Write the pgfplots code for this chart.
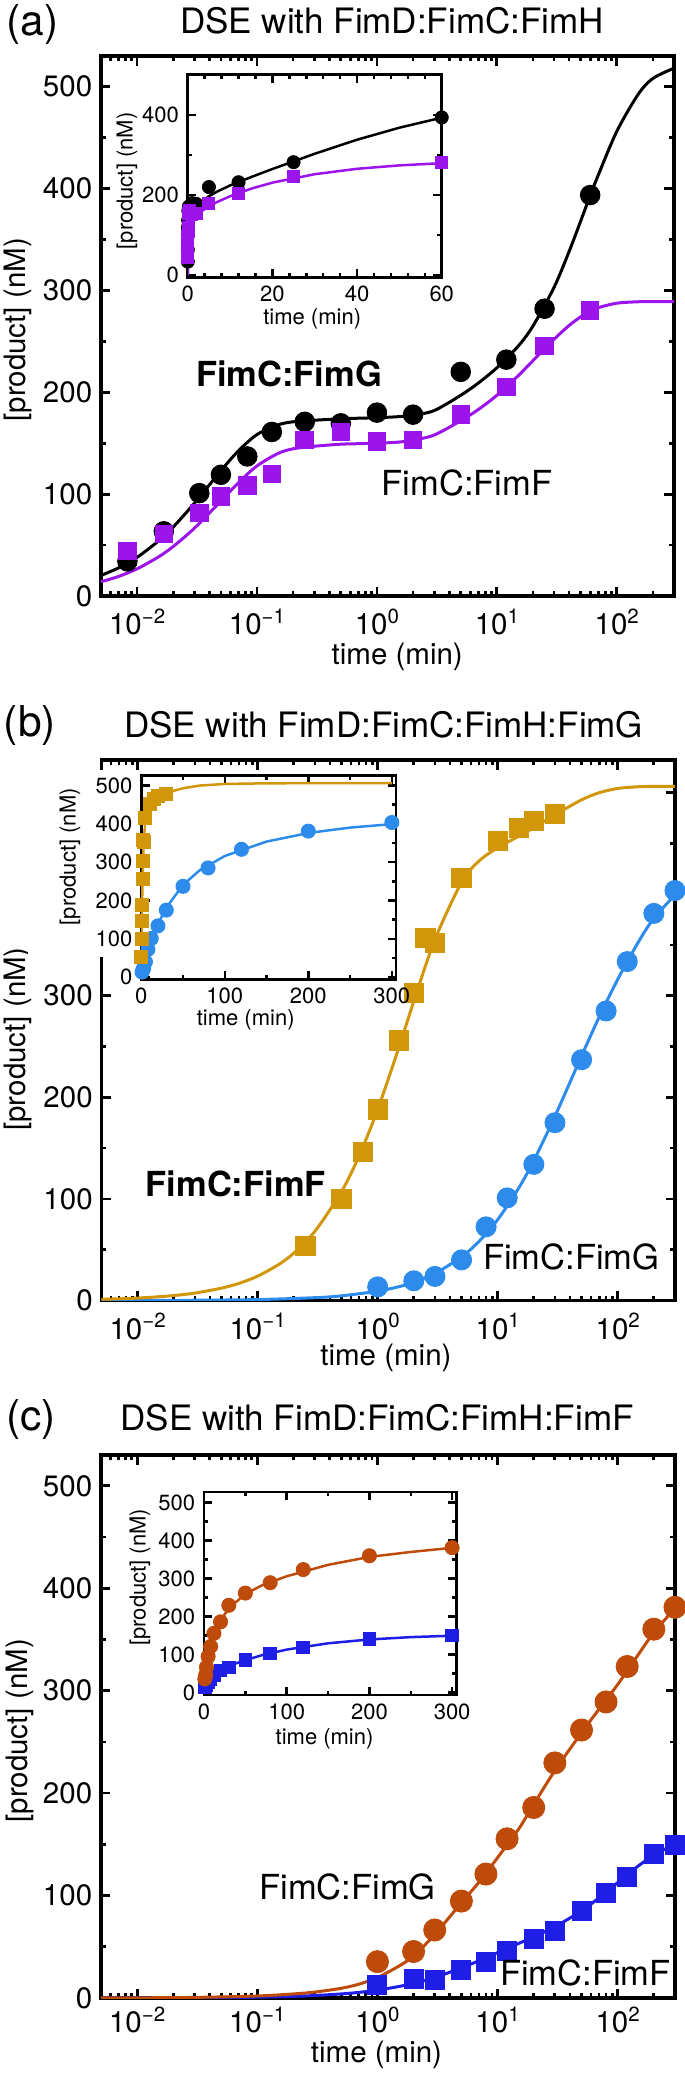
\documentclass[border=0pt]{standalone}
\usepackage{fontspec}
\setmainfont{TeX Gyre Heros}
\usepackage{pgfplots}
\usepackage{pgfplotstable}
\pgfplotsset{compat=1.18}
\pgfkeys{/pgf/number format/assume math mode=true}

\definecolor{apurple}{RGB}{155,20,235}
\definecolor{bgold}{RGB}{210,150,10}
\definecolor{bblue}{RGB}{45,140,235}
\definecolor{corange}{RGB}{190,75,10}
\definecolor{cblue}{RGB}{30,30,230}

\newcommand{\dec}[1]{10\raisebox{4.6pt}{\fontsize{8.2}{9}\selectfont #1}}

% ---------- panel (a) ----------
\pgfplotstableread{
t y
0.0083 34
0.0167 63.5
0.033 101
0.05 119
0.083 137
0.133 161
0.25 171
0.5 169.5
1 180
2 178
5 220
12 232
25 282
60 393.5
}\aB
\pgfplotstableread{
t y
0.0083 44
0.0167 61
0.033 81.5
0.05 97.5
0.083 108.5
0.133 120
0.25 153
0.5 161
1 151.5
2 153
5 178
12 205
25 245.5
60 280
}\aP
\pgfplotstableread{
t y
0.005 20.2
0.007 27.6
0.01 38.0
0.015 53.8
0.02 67.7
0.03 91.0
0.05 123.0
0.07 142.5
0.1 158.5
0.15 168.0
0.2 171.0
0.3 172.5
0.5 174
0.7 174.5
1 175
1.5 176
2 177.5
3 182
5 197
7 209
10 224
15 245
20 265
30 303
40 338
50 368
60 393
70 413
100 456
150 492
200 508
300 518
}\aBfit
\pgfplotstableread{
t y
0.005 14.0
0.007 19.2
0.01 26.7
0.015 38.2
0.02 48.6
0.03 66.5
0.05 93.2
0.07 111.2
0.1 127.7
0.15 140.0
0.2 144.5
0.3 147
0.5 149
0.7 149.5
1 150
1.5 151
2 153
3 158
5 172
7 183
10 197
15 216
20 231
30 252
40 265.5
50 274
60 279.5
70 283
100 287.4
150 288.8
200 289
300 289
}\aPfit
\pgfplotstableread{
t y
0 0
0.005 20.2
0.01 38
0.02 67.7
0.03 91
0.05 123
0.1 158.5
0.2 171
0.5 174
1 175
2 177.5
3 182
5 197
7 209
10 224
15 245
20 265
30 303
40 338
50 368
60 393
}\aBfitI
\pgfplotstableread{
t y
0 0
0.005 14
0.01 26.7
0.02 48.6
0.03 66.5
0.05 93.2
0.1 127.7
0.2 144.5
0.5 149
1 150
2 153
3 158
5 172
7 183
10 197
15 216
20 231
30 252
40 265.5
50 274
60 279.5
}\aPfitI

% ---------- panel (b) ----------
\pgfplotstableread{
t y
0.25 54
0.5 99.7
0.75 146
1 188
1.5 256
2 302.5
2.5 357
3 352
5 415.6
10 452
15 465
20 472
30 479
}\bG
\pgfplotstableread{
t y
1 13.4
2 19.4
3 23.7
5 40
8 72.5
12 101
20 134
30 175
50 237
80 285
120 333.6
200 381
300 403.5
}\bB
\pgfplotstableread{
t y
0.005 1.2
0.007 1.7
0.01 2.4
0.015 3.7
0.02 4.9
0.03 7.3
0.05 12.2
0.07 16.9
0.1 24.0
0.15 35.5
0.2 46.7
0.3 68.1
0.5 107.3
0.7 142.3
1 188.0
1.5 248.8
2 294.5
3 355.4
5 411.6
7 432.7
10 445.6
15 457.1
20 465.4
30 478.1
50 492.8
70 499.8
100 504.0
150 505.7
200 506
300 506
}\bGfit
\pgfplotstableread{
t y
0.005 0.05
0.01 0.1
0.03 0.28
0.1 0.93
0.3 2.8
0.5 4.6
1 9.2
1.5 13.6
2 18.0
3 26.6
5 43.0
7 58.3
10 79.6
15 110.9
20 137.8
30 181.4
50 240.8
70 278.9
100 316.1
150 353.7
200 376.1
300 399.2
}\bBfit
\pgfplotstableread{
t y
0 0
0.1 24
0.2 46.7
0.5 107.3
1 188
1.5 248.8
2 294.5
3 355.4
5 411.6
7 432.7
10 445.6
15 457.1
20 465.4
30 478.1
40 486.8
50 492.8
70 499.8
100 504
150 505.7
200 506
300 506
}\bGfitI
\pgfplotstableread{
t y
0 0
1 9.2
2 18.0
3 26.6
5 43.0
7 58.3
10 79.6
15 110.9
20 137.8
30 181.4
50 240.8
70 278.9
100 316.1
150 353.7
200 376.1
250 390.2
300 399.2
}\bBfitI

% ---------- panel (c) ----------
\pgfplotstableread{
t y
1 35.5
2 45.4
3 66.4
5 94.6
8 121
12 155.4
20 186
30 229.5
50 261.6
80 289
120 323.6
200 360
300 381.4
}\cO
\pgfplotstableread{
t y
1 12.8
2 18.4
3 17.6
5 27
8 35.5
12 46
20 58
30 65.5
50 84.8
80 102.7
120 117.7
200 140.4
300 149.8
}\cB
\pgfplotstableread{
t y
0.005 0.1
0.01 0.2
0.03 0.6
0.1 2.0
0.2 4.0
0.3 5.8
0.5 9.5
0.7 13.5
1 20
1.5 31
2 41
3 62
5 93
7 113
10 137
15 165
20 189
30 222
50 259
70 282
100 306
150 336
200 357
250 370
300 381
}\cOfit
\pgfplotstableread{
t y
0.005 0.04
0.01 0.08
0.03 0.25
0.1 0.8
0.2 1.65
0.3 2.45
0.5 4.0
0.7 5.5
1 7.7
1.5 11.2
2 14.3
3 20.0
5 29.4
7 36.4
10 44.3
15 53.3
20 59.7
30 69.6
50 85.0
70 97.9
100 112.7
150 129.3
200 139.4
250 145.6
300 149.3
}\cBfit
\pgfplotstableread{
t y
0 0
0.5 9.5
1 20
2 41
3 62
5 93
7 113
10 137
15 165
20 189
30 222
50 259
70 282
100 306
150 336
200 357
250 370
300 381
}\cOfitI
\pgfplotstableread{
t y
0 0
0.5 4.0
1 7.7
2 14.3
3 20.0
5 29.4
7 36.4
10 44.3
15 53.3
20 59.7
30 69.6
50 85.0
70 97.9
100 112.7
150 129.3
200 139.4
250 145.6
300 149.3
}\cBfitI

\pgfplotsset{
 mainax/.style={
  scale only axis,
  xtick={0.01,0.1,1,10,100},
  xticklabels={\dec{−2},\dec{−1},\dec{0},\dec{1},\dec{2}},
  minor xtick={0.006,0.007,0.008,0.009,0.02,0.03,0.04,0.05,0.06,0.07,0.08,0.09,0.2,0.3,0.4,0.5,0.6,0.7,0.8,0.9,2,3,4,5,6,7,8,9,20,30,40,50,60,70,80,90,200},
  ytick={0,100,200,300,400,500},
  minor ytick={50,150,250,350,450},
  tick align=inside,
  major tick length=3.8pt, minor tick length=2pt,
  axis line style={line width=1.3pt},
  every tick/.append style={black, line width=1.1pt},
  tick label style={font=\fontsize{11.8}{13}\selectfont},
  label style={font=\fontsize{11.8}{14}\selectfont},
  xlabel={time (min)}, ylabel={[product] (nM)},
  clip mode=individual,
 },
 insetax/.style={
  scale only axis,
  tick align=inside,
  major tick length=3.3pt, minor tick length=1.7pt,
  axis line style={line width=1.1pt},
  every tick/.append style={black, line width=1pt},
  tick label style={font=\fontsize{8.8}{10}\selectfont},
  label style={font=\fontsize{8.8}{10}\selectfont},
  xlabel={time (min)}, ylabel={[product] (nM)},
  clip mode=individual,
  axis background/.style={fill=white},
 },
 fitline/.style={line width=1.2pt, smooth, no markers},
 fitlineI/.style={line width=1pt, no markers},
}

\begin{document}
\begin{tikzpicture}
\useasboundingbox (0,0) rectangle (273.6pt,-830.8pt);

% titles
\node[anchor=base west, inner sep=0, font=\fontsize{17}{19}\selectfont] at (2.4pt,-14pt) {(a)};
\node[anchor=base, inner sep=0, font=\fontsize{14}{16}\selectfont] at (156.8pt,-13.2pt) {DSE with FimD:FimC:FimH};
\node[anchor=base west, inner sep=0, font=\fontsize{17}{19}\selectfont] at (1.4pt,-294.4pt) {(b)};
\node[anchor=base, inner sep=0, font=\fontsize{14}{16}\selectfont] at (153.5pt,-295pt) {DSE with FimD:FimC:FimH:FimG};
\node[anchor=base west, inner sep=0, font=\fontsize{17}{19}\selectfont] at (2.3pt,-572pt) {(c)};
\node[anchor=base, inner sep=0, font=\fontsize{14}{16}\selectfont] at (150.8pt,-572.2pt) {DSE with FimD:FimC:FimH:FimF};

% ===== (a) main =====
\begin{axis}[xmode=log, xmin=0.005, xmax=300, ymin=0, ymax=530, mainax,
  anchor=south west, at={(40.4pt,-238.4pt)}, width=229.2pt, height=216pt,
  xticklabel style={yshift=-1.5pt},
  xlabel style={at={(axis description cs:0.517,0)}, anchor=base, yshift=-27.2pt},
  ylabel style={at={(axis description cs:-0.1457,0.493)}, anchor=center}]
\addplot[black, fitline] table {\aBfit};
\addplot[apurple, fitline] table {\aPfit};
\addplot[only marks, mark=*, mark size=3.9pt, black] table {\aB};
\addplot[only marks, mark=square*, mark size=3.5pt, apurple] table {\aP};
\end{axis}
% ===== (a) inset =====
\begin{axis}[xmin=0, xmax=60, ymin=-5, ymax=500, insetax,
  anchor=south west, at={(75.1pt,-110.9pt)}, width=101.6pt, height=81pt,
  xtick={0,20,40,60}, minor x tick num=4,
  ytick={0,200,400}, minor ytick={100,300},
  xlabel style={at={(axis description cs:0.49,0)}, anchor=base, yshift=-19pt},
  ylabel style={at={(axis description cs:-0.239,0.476)}, anchor=center}]
\addplot[black, fitlineI] table {\aBfitI};
\addplot[apurple, fitlineI] table {\aPfitI};
\addplot[only marks, mark=*, mark size=2.6pt, black] table {\aB};
\addplot[only marks, mark=square*, mark size=2.4pt, apurple] table {\aP};
\end{axis}

% ===== (b) main =====
\begin{axis}[xmode=log, xmin=0.005, xmax=300, ymin=0, ymax=532, mainax,
  anchor=south west, at={(40.6pt,-520.2pt)}, width=229.4pt, height=216.2pt,
  xticklabel style={yshift=-1.5pt},
  xlabel style={at={(axis description cs:0.496,0)}, anchor=base, yshift=-26pt},
  ylabel style={at={(axis description cs:-0.1465,0.484)}, anchor=center}]
\addplot[bblue, fitline] table {\bBfit};
\addplot[bgold, fitline] table {\bGfit};
\addplot[only marks, mark=*, mark size=4pt, bblue] table {\bB};
\addplot[only marks, mark=square*, mark size=3.85pt, bgold] table {\bG};
\end{axis}
\fill[white] (11.2pt,-308pt) rectangle (158.4pt,-382.8pt);
% ===== (b) inset =====
\begin{axis}[xmin=0, xmax=305, ymin=-6, ymax=526, insetax,
  anchor=south west, at={(56.5pt,-391.8pt)}, width=101.9pt, height=81.6pt,
  xtick={0,100,200,300}, minor x tick num=1,
  ytick={0,100,200,300,400,500}, minor y tick num=1,
  xlabel style={at={(axis description cs:0.41,0)}, anchor=base, yshift=-18.4pt},
  ylabel style={at={(axis description cs:-0.28,0.602)}, anchor=center}]
\addplot[bblue, fitlineI] table {\bBfitI};
\addplot[bgold, fitlineI] table {\bGfitI};
\addplot[only marks, mark=*, mark size=2.8pt, bblue] table {\bB};
\addplot[only marks, mark=square*, mark size=2.6pt, bgold] table {\bG};
\end{axis}

% ===== (c) main =====
\begin{axis}[xmode=log, xmin=0.005, xmax=300, ymin=0, ymax=530, mainax,
  anchor=south west, at={(40.4pt,-799.2pt)}, width=229.6pt, height=217.2pt,
  xlabel style={at={(axis description cs:0.48,0)}, anchor=base, yshift=-25.6pt},
  ylabel style={at={(axis description cs:-0.1416,0.492)}, anchor=center}]
\addplot[cblue, fitline] table {\cBfit};
\addplot[corange, fitline] table {\cOfit};
\addplot[only marks, mark=square*, mark size=3.8pt, cblue] table {\cB};
\addplot[only marks, mark=*, mark size=4.4pt, corange] table {\cO};
\end{axis}
% ===== (c) inset =====
\begin{axis}[xmin=0, xmax=305, ymin=-7, ymax=528, insetax,
  anchor=south west, at={(81.6pt,-678pt)}, width=100.9pt, height=81.2pt,
  xtick={0,100,200,300}, minor x tick num=1,
  ytick={0,100,200,300,400,500}, minor y tick num=1,
  xlabel style={at={(axis description cs:0.478,0)}, anchor=base, yshift=-19.6pt},
  ylabel style={at={(axis description cs:-0.254,0.58)}, anchor=center}]
\addplot[cblue, fitlineI] table {\cBfitI};
\addplot[corange, fitlineI] table {\cOfitI};
\addplot[only marks, mark=square*, mark size=2.5pt, cblue] table {\cB};
\addplot[only marks, mark=*, mark size=2.8pt, corange] table {\cO};
\end{axis}

% annotations
\node[anchor=base, inner sep=0, font=\fontsize{13.8}{16}\selectfont\bfseries] at (115.6pt,-154.4pt) {FimC:FimG};
\node[anchor=base, inner sep=0, font=\fontsize{13.8}{16}\selectfont] at (186.8pt,-198.2pt) {FimC:FimF};
\node[anchor=base, inner sep=0, font=\fontsize{13.8}{16}\selectfont\bfseries] at (94.3pt,-478.6pt) {FimC:FimF};
\node[anchor=base, inner sep=0, font=\fontsize{13.8}{16}\selectfont] at (228.5pt,-507.9pt) {FimC:FimG};
\node[anchor=base, inner sep=0, font=\fontsize{13.8}{16}\selectfont] at (139pt,-759.9pt) {FimC:FimG};
\node[anchor=base, inner sep=0, font=\fontsize{13.8}{16}\selectfont] at (234.2pt,-794.1pt) {FimC:FimF};
\end{tikzpicture}
\end{document}
